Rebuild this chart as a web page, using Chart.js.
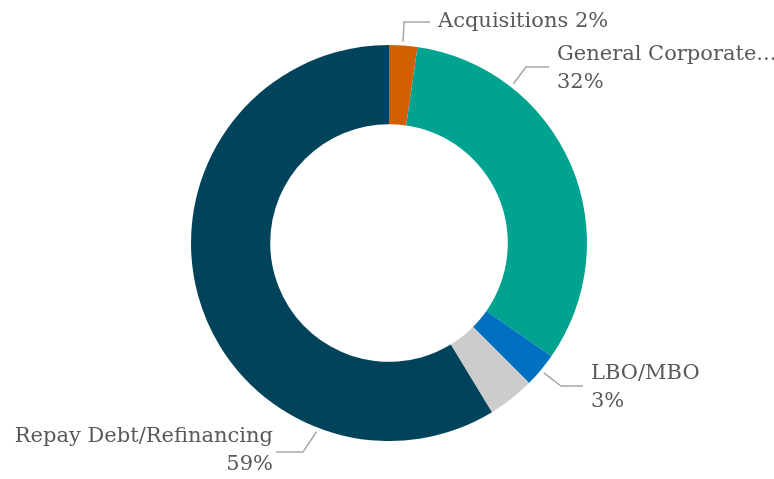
<!DOCTYPE html>
<html>
<head>
<meta charset="utf-8">
<script src="https://cdn.jsdelivr.net/npm/chart.js@4/dist/chart.umd.min.js"></script>
<style>
  html, body { margin: 0; padding: 0; background: #FFFFFF; }
  #wrap { width: 774px; height: 479px; }
</style>
</head>
<body>
<div id="wrap"><canvas id="useOfProceeds" width="774" height="479"></canvas></div>
<script>
// --- dados ---
const categories = ['Acquisitions', 'General Corporate...', 'LBO/MBO', 'Other', 'Repay Debt/Refinancing'];
const shares = [2.3, 32.4, 2.8, 3.8, 58.7];
const shareLabels = ['2%', '32%', '3%', '', '59%'];
const sliceColors = ['#D45F00', '#00A390', '#0070C0', '#CCCCCC', '#00435A'];

const textColor = '#595959';
const leaderColor = '#A6A6A6';
const labelFont = '21px "DejaVu Serif", Georgia, serif';

// label placement: angle (deg from top, clockwise) where the leader leaves the ring
const labelLayout = [
    { angle: 4,   elbow: [404, 22],  end: [430, 22],  text: [438, 22],  align: 'left',  inline: true },
    { angle: 38,  elbow: [526, 67],  end: [549, 67],  text: [557, 55],  align: 'left' },
    { angle: 130, elbow: [561, 386], end: [583, 386], text: [591, 374], align: 'left' },
    null,
    { angle: 201, elbow: [303, 452], end: [276, 452], text: [273, 437], align: 'right' }
];

const leaderLabels = {
    id: 'leaderLabels',
    afterDatasetsDraw(chart) {
        const ctx = chart.ctx;
        const arcs = chart.getDatasetMeta(0).data;
        if (!arcs.length) return;
        const cx = arcs[0].x, cy = arcs[0].y, r = arcs[0].outerRadius;
        ctx.save();
        ctx.font = labelFont;
        ctx.fillStyle = textColor;
        ctx.strokeStyle = leaderColor;
        ctx.lineWidth = 1.5;
        ctx.textBaseline = 'middle';
        labelLayout.forEach((l, i) => {
            if (!l) return;
            const a = l.angle * Math.PI / 180;
            const sx = cx + Math.sin(a) * (r + 4);
            const sy = cy - Math.cos(a) * (r + 4);
            ctx.beginPath();
            ctx.moveTo(sx, sy);
            ctx.lineTo(l.elbow[0], l.elbow[1]);
            ctx.lineTo(l.end[0], l.end[1]);
            ctx.stroke();
            ctx.textAlign = l.align;
            if (l.inline) {
                ctx.fillText(categories[i] + ' ' + shareLabels[i], l.text[0], l.text[1]);
            } else {
                ctx.fillText(categories[i], l.text[0], l.text[1]);
                ctx.fillText(shareLabels[i], l.text[0], l.text[1] + 28);
            }
        });
        ctx.restore();
    }
};

new Chart(document.getElementById('useOfProceeds'), {
    type: 'doughnut',
    data: {
        labels: categories,
        datasets: [{
            data: shares,
            backgroundColor: sliceColors,
            borderWidth: 0
        }]
    },
    options: {
        responsive: false,
        animation: false,
        cutout: '60%',
        layout: { padding: { left: 191, right: 187, top: 45, bottom: 38 } },
        plugins: {
            legend: { display: false },
            tooltip: { enabled: false }
        }
    },
    plugins: [leaderLabels]
});
</script>
</body>
</html>
